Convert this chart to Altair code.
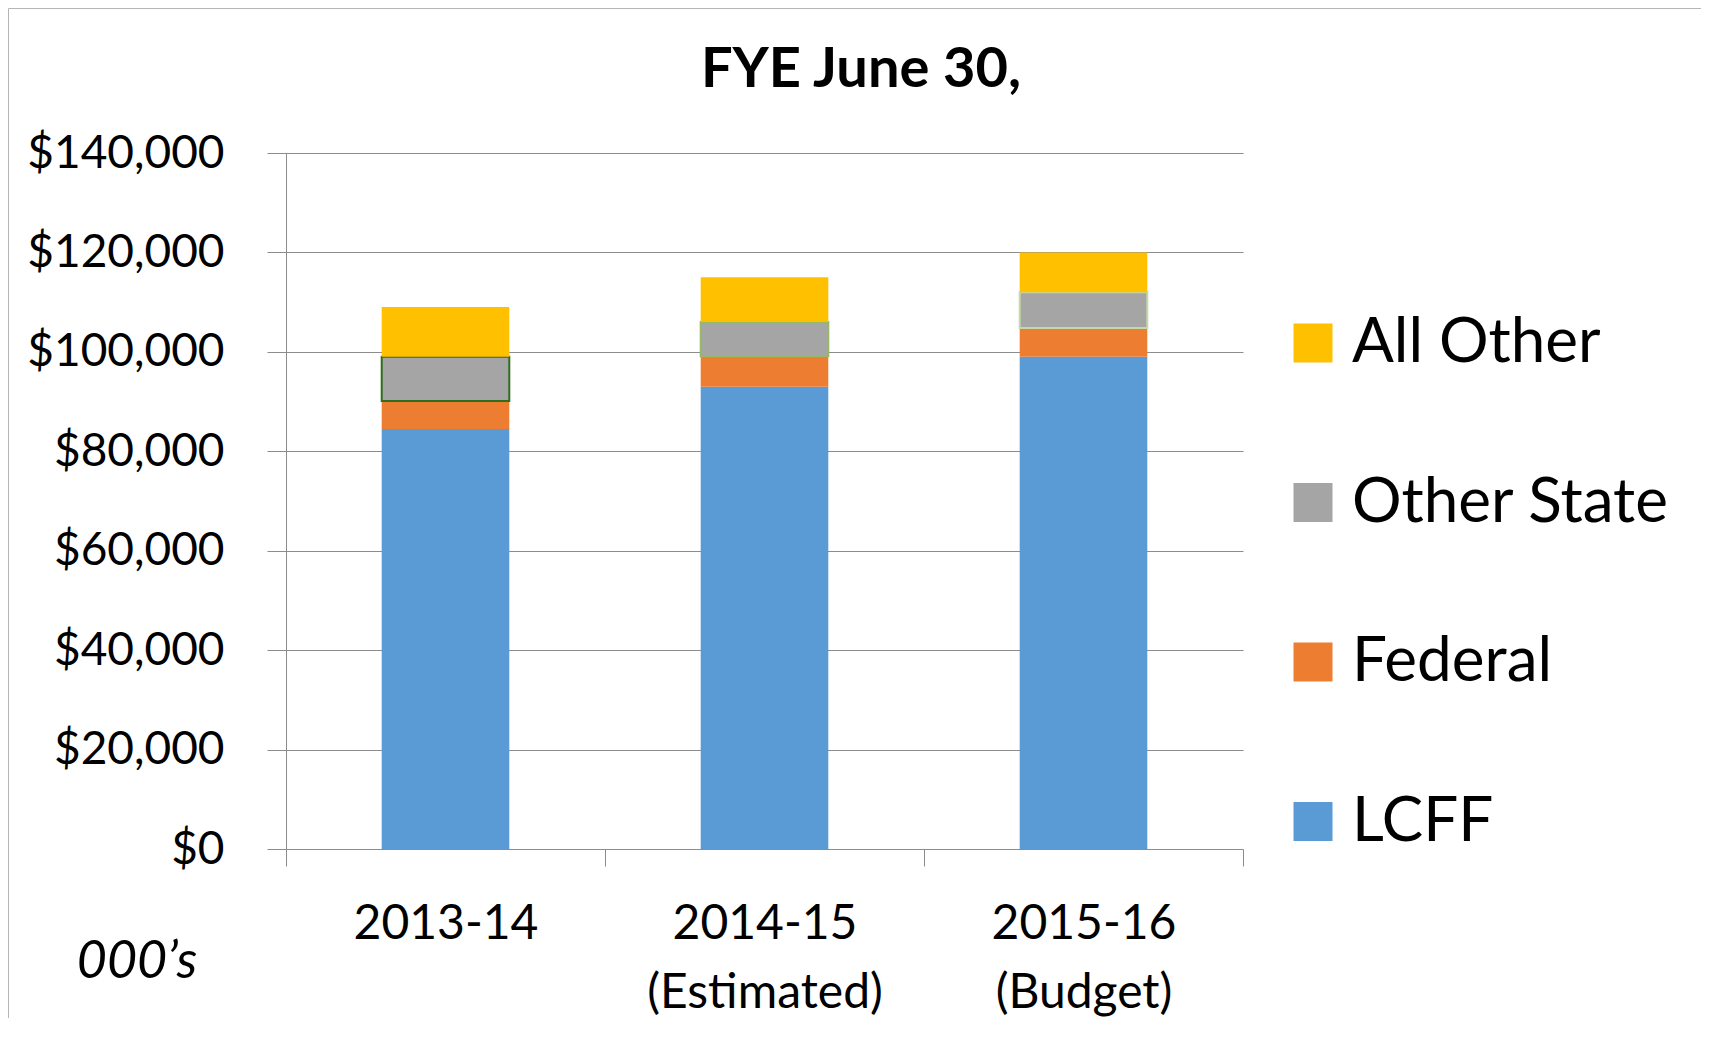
import altair as alt
import pandas as pd

# ---- data (thousands of dollars) ----
years = ["2013-14", "2014-15 (Estimated)", "2015-16 (Budget)"]
series = ["LCFF", "Federal", "Other State", "All Other"]
lcff = [84500, 93000, 99000]
federal = [5600, 6100, 5800]
other_state = [8900, 6900, 7200]
all_other = [10000, 9000, 8000]
y_ticks = [0, 20000, 40000, 60000, 80000, 100000, 120000, 140000]
legend_order = ["All Other", "Other State", "Federal", "LCFF"]
legend_colors = ["#FFC000", "#A5A5A5", "#ED7D31", "#5B9BD5"]
title_text = ["FYE June 30,"]
unit_text = ["000\u2019s"]

rows = []
for i, yr in enumerate(years):
    for j, (s, vals) in enumerate(zip(series, [lcff, federal, other_state, all_other])):
        rows.append({"year": yr, "series": s, "value": vals[i], "order": j})
df = pd.DataFrame(rows)

W, H = 957, 696
PAD_L, PAD_T, PAD_R, PAD_B = 278, 145, 458, 169
FONT = "Lato"
GRID = "#8c8c8c"

x_enc = alt.X(
    "year:N", sort=years, title=None,
    scale=alt.Scale(paddingInner=0, paddingOuter=0),
    axis=alt.Axis(
        labelExpr="split(datum.label, ' ')", labelAngle=0, labelFont=FONT,
        labelFontSize=48, labelColor="black", labelLineHeight=69,
        labelPadding=34, labelBaseline="top", labelLimit=0, tickBand="extent",
        ticks=True, tickSize=17, tickColor=GRID, tickWidth=1, domain=False,
        grid=False,
    ),
)
y_enc = alt.Y(
    "value:Q", stack="zero", title=None,
    scale=alt.Scale(domain=[0, 140000], nice=False),
    axis=alt.Axis(
        values=y_ticks, format="$,.0f", labelFont=FONT, labelFontSize=46,
        labelColor="black", labelPadding=43, labelLimit=0, tickSize=19,
        tickColor=GRID, tickWidth=1, gridColor=GRID, gridWidth=1,
        domainColor=GRID, domainWidth=1,
    ),
)

bars = alt.Chart(df).mark_bar(width=alt.RelativeBandSize(0.4)).encode(
    x=x_enc,
    y=y_enc,
    color=alt.Color(
        "series:N",
        scale=alt.Scale(domain=legend_order, range=legend_colors),
        legend=alt.Legend(
            title=None, orient="none", legendX=996, legendY=159,
            direction="vertical", symbolType="square", symbolSize=1521,
            symbolStrokeWidth=0, labelFont=FONT, labelFontSize=62,
            labelColor="black", labelLimit=0, rowPadding=97.5, labelOffset=8,
        ),
    ),
    order=alt.Order("order:Q"),
    stroke=alt.condition(
        "datum.series == 'Other State'",
        alt.Stroke("year:N", sort=years,
                   scale=alt.Scale(domain=years, range=["#2f6e1f", "#97b964", "#c5d9a8"]),
                   legend=None),
        alt.value("transparent"),
    ),
    strokeWidth=alt.condition("datum.series == 'Other State'", alt.value(2), alt.value(0)),
)

title_layer = alt.Chart(pd.DataFrame({"t": title_text})).mark_text(
    font=FONT, fontSize=56, fontWeight="bold", color="black",
    align="center", baseline="alphabetic",
).encode(text="t:N", x=alt.value(575), y=alt.value(-66))

unit_layer = alt.Chart(pd.DataFrame({"t": unit_text})).mark_text(
    font=FONT, fontSize=52, fontStyle="italic", color="black",
    align="center", baseline="alphabetic",
).encode(text="t:N", x=alt.value(-149), y=alt.value(825))

border = alt.Chart(pd.DataFrame({"t": [0]})).mark_rect(
    fill="transparent", stroke="#b5b5b5", strokeWidth=1,
).encode(x=alt.value(-277.5), x2=alt.value(W + PAD_R + 40),
         y=alt.value(-144.5), y2=alt.value(H + PAD_B + 40))

chart = alt.layer(border, bars, title_layer, unit_layer).properties(
    width=W, height=H,
    padding={"left": PAD_L, "top": PAD_T, "right": PAD_R, "bottom": PAD_B},
    autosize=alt.AutoSizeParams(type="none"),
).configure_view(stroke=None)

chart.save("out.html", embed_options={"renderer": "svg", "actions": False})
